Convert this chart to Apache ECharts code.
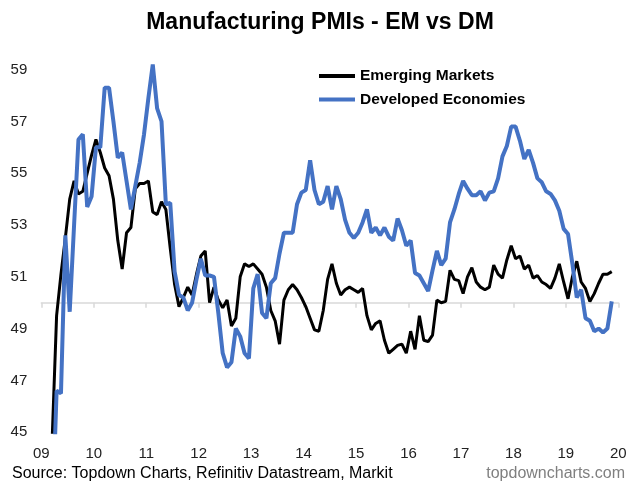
<!DOCTYPE html>
<html><head><meta charset="utf-8">
<script src="https://cdn.jsdelivr.net/npm/echarts@6/dist/echarts.min.js"></script>
<style>html,body{margin:0;padding:0;background:#fff}#c{width:640px;height:492px}</style>
</head><body><div id="c"></div>
<script>
// Monthly data, Jan 2009 (index 0) to Nov 2019 (index 130)
const yearLabels = ['09','10','11','12','13','14','15','16','17','18','19','20'];
const yTickLabels = [45,47,49,51,53,55,57,59];
const seriesNames = ['Emerging Markets', 'Developed Economies'];
const emValues = [
41.5,43.0,44.8,49.5,51.1,52.5,54.0,54.7,54.2,54.3,55.0,55.7,
56.3,55.8,55.2,54.9,54.0,52.4,51.3,52.7,52.9,54.4,54.6,54.6,
54.7,53.5,53.4,53.9,53.6,52.1,50.7,49.85,50.2,50.6,50.3,51.1,
51.8,52.0,50.0,50.6,50.1,49.8,50.1,49.1,49.4,51.0,51.5,51.4,
51.5,51.3,51.1,50.6,49.7,49.3,48.4,50.1,50.5,50.7,50.5,50.2,
49.85,49.4,48.95,48.9,49.7,50.9,51.5,50.75,50.3,50.5,50.6,50.5,
50.4,50.55,49.5,48.95,49.2,49.3,48.55,48.05,48.2,48.35,48.4,48.05,
48.9,48.2,49.5,48.55,48.5,48.75,50.1,50.0,50.05,51.25,50.9,50.85,
50.35,51.0,51.35,50.8,50.6,50.5,50.6,51.45,51.1,50.95,51.65,52.2,
51.7,51.8,51.3,51.45,50.95,51.05,50.8,50.7,50.55,50.95,51.5,50.8,
50.15,51.0,51.6,50.8,50.55,50.05,50.35,50.75,51.1,51.1,51.2
];
const dmValues = [
38.0,39.5,41.5,46.6,46.5,52.6,49.65,53.0,56.3,56.5,53.7,54.1,
56.0,56.0,58.3,58.3,57.0,55.6,55.8,54.7,53.6,54.5,55.4,56.5,
57.9,59.2,57.5,57.0,53.8,53.85,51.2,50.3,50.2,49.7,50.0,50.9,
51.7,51.05,51.05,51.0,49.6,48.05,47.5,47.7,49.0,48.7,48.05,47.85,
50.55,51.1,49.6,49.4,50.75,50.95,51.9,52.7,52.7,52.7,53.8,54.25,
54.35,55.5,54.35,53.8,53.9,54.5,53.6,54.5,54.0,53.2,52.7,52.5,
52.7,53.1,53.6,52.7,52.9,52.6,52.9,52.55,52.4,53.25,52.8,52.2,
52.4,51.15,51.05,50.75,50.45,51.25,52.0,51.45,51.7,53.1,53.6,54.2,
54.7,54.4,54.15,54.15,54.3,53.95,54.25,54.3,54.8,55.65,56.05,56.8,
56.8,56.25,55.55,55.9,55.4,54.8,54.65,54.3,54.2,53.95,53.55,52.85,
52.65,51.5,50.2,50.5,49.4,49.3,48.9,49.0,48.85,49.0,50.05
];

const FONT = 'Liberation Sans, Arial, sans-serif';
const yMin = 45, yMax = 60, refLevel = 50;
const gridTop = 43.7, gridBottom = 59.8;
const plotH = 492 - gridTop - gridBottom;
const refOffset = -plotH * (refLevel - yMin) / (yMax - yMin);

function toPairs(arr) { return arr.map((v, i) => [i + 0.5, v]); }

const chart = echarts.init(document.getElementById('c'), null, {renderer: 'canvas'});
chart.setOption({
  backgroundColor: '#fff',
  animation: false,
  title: {
    text: 'Manufacturing PMIs - EM vs DM',
    left: 'center', top: 6,
    textStyle: {fontFamily: FONT, fontSize: 23, fontWeight: 'bold', color: '#000'}
  },
  legend: {
    orient: 'vertical', left: 314, top: 63,
    icon: 'rect', itemWidth: 36, itemHeight: 4, itemGap: 7.5,
    data: seriesNames,
    textStyle: {fontFamily: FONT, fontSize: 15.5, fontWeight: 'bold', color: '#000', lineHeight: 16}
  },
  grid: {left: 41.3, right: 21.7, top: gridTop, bottom: gridBottom},
  xAxis: [{
    type: 'value', min: 0, max: 132, interval: 12,
    axisLine: {show: false}, axisTick: {show: false}, splitLine: {show: false},
    axisLabel: {
      margin: 14, fontFamily: FONT, fontSize: 15, color: '#222',
      formatter: v => yearLabels[Math.round(v / 12)] || ''
    }
  }, {
    type: 'value', min: 0, max: 132, interval: 12, position: 'bottom', offset: refOffset,
    axisLine: {show: true, lineStyle: {color: '#d9d9d9', width: 1.5}},
    axisTick: {show: true, length: 5, lineStyle: {color: '#d9d9d9', width: 1.5}},
    axisLabel: {show: false}, splitLine: {show: false}
  }],
  yAxis: {
    type: 'value', min: yMin, max: yMax, interval: 1,
    axisLine: {show: false}, axisTick: {show: false}, splitLine: {show: false},
    axisLabel: {
      margin: 14, fontFamily: FONT, fontSize: 15, color: '#222',
      formatter: v => yTickLabels.includes(v) ? String(v) : ''
    }
  },
  series: [{
    name: seriesNames[0], type: 'line', xAxisIndex: 0, data: toPairs(emValues),
    showSymbol: false, symbol: 'none', color: '#000',
    lineStyle: {color: '#000', width: 3}, itemStyle: {color: '#000'}
  }, {
    name: seriesNames[1], type: 'line', xAxisIndex: 0, data: toPairs(dmValues),
    showSymbol: false, symbol: 'none', color: '#4472C4',
    lineStyle: {color: '#4472C4', width: 4}, itemStyle: {color: '#4472C4'}
  }],
  graphic: [{
    type: 'text', left: 12, top: 466,
    style: {text: 'Source: Topdown Charts, Refinitiv Datastream, Markit', font: '16px ' + FONT, fill: '#000'}
  }, {
    type: 'text', right: 15, top: 466,
    style: {text: 'topdowncharts.com', font: '16px ' + FONT, fill: '#7f7f7f'}
  }]
});
</script>
</body></html>
